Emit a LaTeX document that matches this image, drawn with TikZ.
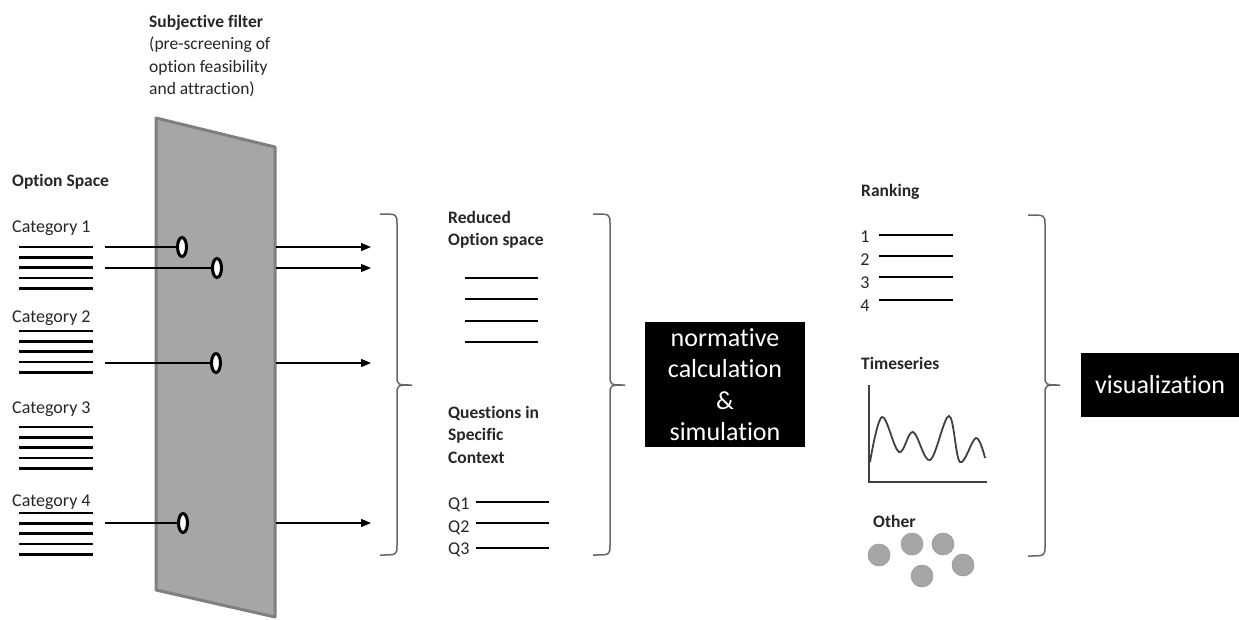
\documentclass[tikz,border=0pt]{standalone}
\usepackage{fontspec}
\setmainfont{Carlito}[Ligatures=NoCommon]
\usepackage{tikz}
\usetikzlibrary{arrows.meta, shapes.geometric, positioning}

\definecolor{filterfill}{HTML}{A6A6A6}
\definecolor{filterrim}{HTML}{7F7F7F}
\definecolor{inkgray}{HTML}{404040}

% right brace: x start, x spine, x tip, y top, y middle, y bottom
\newcommand{\rightbrace}[6]{%
  \draw[brace line] (#1,#4) .. controls (#2,#4) .. (#2,#4+10) -- (#2,#5-10)
    .. controls (#2,#5) .. (#3,#5) .. controls (#2,#5) .. (#2,#5+10)
    -- (#2,#6-10) .. controls (#2,#6) .. (#1,#6);}

\begin{document}
\begin{tikzpicture}[x=1pt, y=-1pt]
  \useasboundingbox (0,0) rectangle (1239,619);

  % --- Styles ---
  \tikzset{
    plain text/.style={anchor=west, inner sep=0pt, text=black!85, font=\fontsize{18}{22.5}\selectfont},
    head text/.style={plain text, font=\fontsize{17.5}{22.5}\selectfont\bfseries},
    option line/.style={line width=2.6pt, black},
    filter hole/.style={ellipse, draw, line width=3pt, fill=white, minimum width=9pt, minimum height=19pt, inner sep=0pt},
    flow arrow/.style={line width=1.2pt, -{Triangle[length=10pt,width=8pt]}},
    brace line/.style={black!60, line width=1.5pt},
    black box/.style={fill=black, text=white, inner sep=0pt, align=center, font=\fontsize{26}{31.5}\selectfont},
    gray dot/.style={circle, fill=filterfill, draw=black!40, line width=0.6pt, minimum size=22pt, inner sep=0pt}
  }

  % --- The subjective filter (slanted panel) ---
  \coordinate (FTL) at (156,118);
  \coordinate (FTR) at (275,147);
  \coordinate (FBR) at (275,617);
  \coordinate (FBL) at (156,590);
  \draw[filterrim, fill=filterfill, line width=3pt, line join=round] (FTL) -- (FTR) -- (FBR) -- (FBL) -- cycle;

  \node[head text, anchor=north west, align=left] (filterlabel) at (149,15)
    {Subjective filter\\\mdseries(pre-screening of\\\mdseries option feasibility\\\mdseries and attraction)};

  % --- Option space: four categories ---
  \node[head text] (optspace) at (12,182) {Option Space};
  \node[plain text] (cat1) at (12,228) {Category 1};
  \node[plain text] (cat2) at (12,318) {Category 2};
  \node[plain text] (cat3) at (12,409) {Category 3};
  \node[plain text] (cat4) at (12,502) {Category 4};
  \foreach \y in {247,331,427,513}{
    \foreach \k in {0,...,4}
      \draw[option line] (19,\y+10.3*\k) -- (93,\y+10.3*\k);
  }

  % --- Options passing through the filter ---
  \node[filter hole] (h1) at (182,247) {};
  \node[filter hole] (h2) at (217,268) {};
  \node[filter hole] (h3) at (216,363) {};
  \node[filter hole] (h4) at (183,523) {};
  \coordinate (i1) at (105,247);
  \coordinate (i2) at (105,268);
  \coordinate (i3) at (105,363);
  \coordinate (i4) at (105,523);
  \draw[line width=1.2pt] (i1) -- (h1);
  \draw[line width=1.2pt] (i2) -- (h2);
  \draw[line width=1.2pt] (i3) -- (h3);
  \draw[line width=1.2pt] (i4) -- (h4);

  \foreach \n/\y in {1/247,2/268,3/363,4/523}{
    \coordinate (o\n s) at (276,\y);
    \coordinate (o\n e) at (371,\y);
    \draw[flow arrow] (o\n s) -- (o\n e);
  }

  \rightbrace{380}{397}{412}{214}{385}{555}

  % --- Reduced option space and questions ---
  \node[head text, anchor=north west, align=left] (reduced) at (448,211) {Reduced\\Option space};
  \foreach \y in {278,299,321,342}
    \draw[option line] (465,\y) -- (538,\y);

  \node[head text, anchor=north west, align=left] (questions) at (448,406) {Questions in\\Specific\\Context};
  \node[plain text] (q1) at (448,505) {Q1};
  \node[plain text] (q2) at (448,528) {Q2};
  \node[plain text] (q3) at (448,550) {Q3};
  \foreach \y in {502,523,548}
    \draw[option line] (476,\y) -- (549,\y);

  \rightbrace{593}{610}{625}{214}{385}{555}

  \node[black box, minimum width=160pt, minimum height=125pt] (calc) at (725,384.5)
    {normative\\calculation\\\&\\simulation};

  % --- Outputs: ranking, timeseries, other ---
  \node[head text] (ranking) at (861,192) {Ranking};
  \foreach \n/\y/\ly in {1/237/235,2/260/256,3/283/277,4/306/300}{
    \node[plain text, anchor=center] (rank\n) at (865,\y) {\n};
    \draw[option line] (879,\ly) -- (953,\ly);
  }

  \node[head text] (timeseries) at (861,363) {Timeseries};
  \draw[inkgray, line width=1.8pt] (869,385) -- (869,482) -- (987,482);
  \draw[inkgray, line width=1.8pt] plot[smooth, tension=0.6] coordinates
    {(870,462) (882,417) (899,452) (913,432) (930,460) (949,416) (960,462) (976,438) (985,458)};

  \node[head text] (other) at (873,521) {Other};
  \node[gray dot] (d1) at (879,555) {};
  \node[gray dot] (d2) at (912,544) {};
  \node[gray dot] (d3) at (943,544) {};
  \node[gray dot] (d4) at (963,565) {};
  \node[gray dot] (d5) at (922,576) {};

  \rightbrace{1028}{1045}{1060}{215}{385}{556}

  \node[black box, minimum width=158pt, minimum height=64pt] (vis) at (1160,385) {visualization};

\end{tikzpicture}
\end{document}
